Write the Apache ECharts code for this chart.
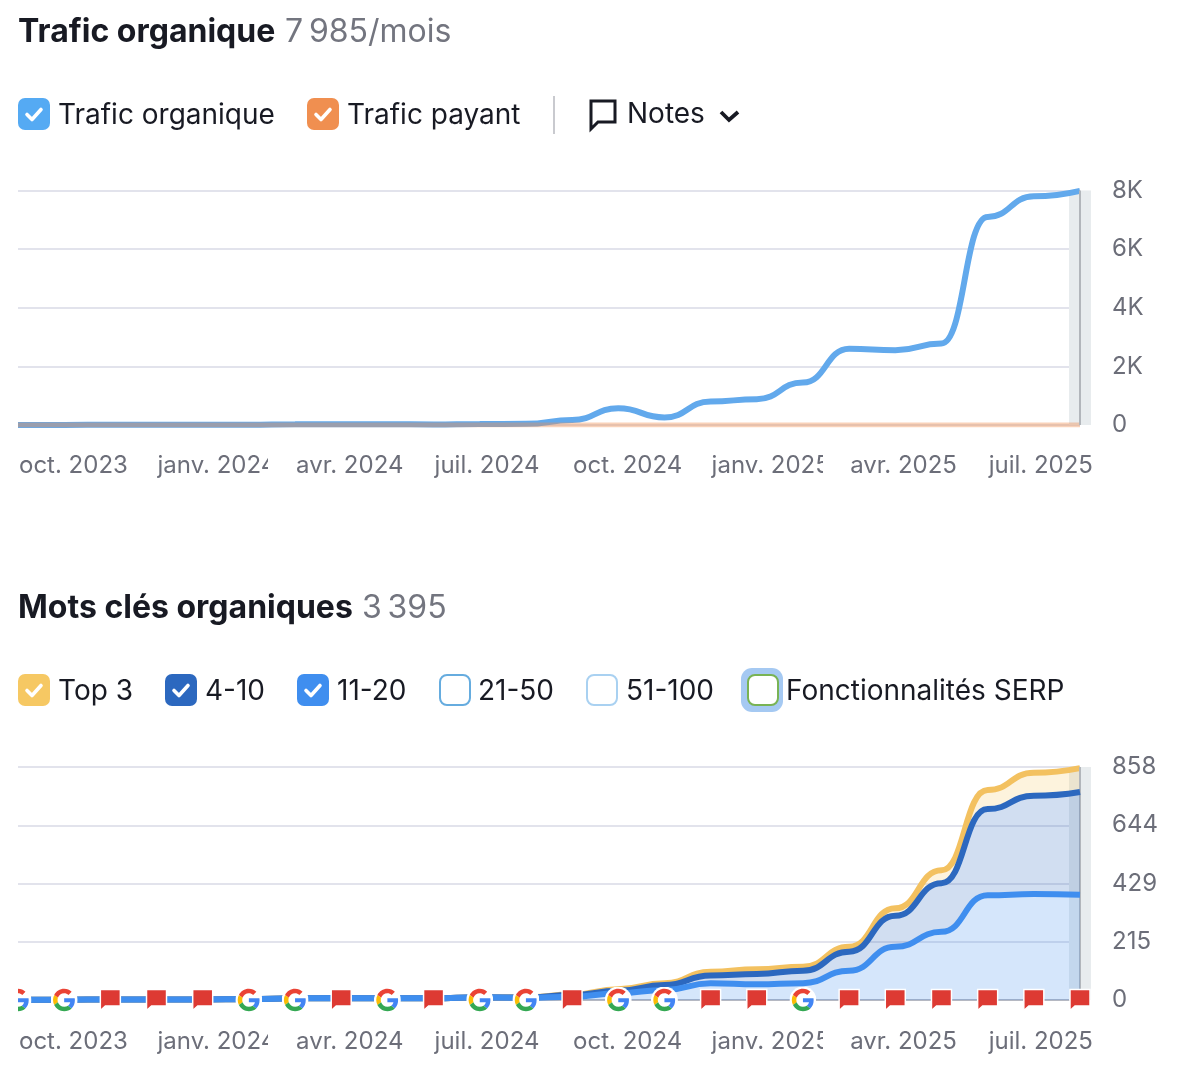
<!DOCTYPE html>
<html>
<head>
<meta charset="utf-8">
<style>html,body{margin:0;padding:0;background:#fff}#c{width:1180px;height:1092px}</style>
<script src="https://cdn.jsdelivr.net/npm/echarts@6/dist/echarts.min.js"></script>
</head>
<body>
<div id="c"></div>
<script>
const categories = ['oct. 2023','nov. 2023','déc. 2023','janv. 2024','févr. 2024','mars 2024','avr. 2024','mai 2024','juin 2024','juil. 2024','août 2024','sept. 2024','oct. 2024','nov. 2024','déc. 2024','janv. 2025','févr. 2025','mars 2025','avr. 2025','mai 2025','juin 2025','juil. 2025','août 2025','sept. 2025'];
const organicTraffic = [3,4,5,6,8,10,25,28,25,20,35,40,170,570,260,800,880,1450,2600,2550,2780,7100,7800,7985];
const paidTraffic = [0,0,0,0,0,0,0,0,0,0,0,0,0,0,0,0,0,0,0,0,0,0,0,0];
const kw1120 = [1,1,2,2,2,3,6,7,6,6,10,8,12,25,37,62,58,62,108,196,251,386,390,388];
const kw410 = [0,0,0,0,0,0,0,0,0,0,0,1,6,9,18,28,38,46,70,114,179,317,362,378];
const kwTop3 = [0,0,0,0,0,0,0,0,0,0,0,1,2,6,7,14,17,14,18,28,48,70,85,88];
const noteKinds = ['G','G','F','F','F','G','G','F','G','F','G','G','F','G','G','F','F','G','F','F','F','F','F','F'];
const trafficTicks = {max:8000, interval:2000};
const keywordTicks = {max:858, interval:214.5};

const FONT = 'Inter, "Noto Sans", sans-serif';
const gSvg = '<svg xmlns="http://www.w3.org/2000/svg" viewBox="-5 -5 58 58"><circle cx="24" cy="24" r="29" fill="#fff"/><path fill="#EA4335" d="M24 9.5c3.54 0 6.71 1.22 9.21 3.6l6.85-6.85C35.9 2.38 30.47 0 24 0 14.62 0 6.51 5.38 2.56 13.22l7.98 6.19C12.43 13.72 17.74 9.5 24 9.5z"/><path fill="#4285F4" d="M46.98 24.55c0-1.57-.15-3.09-.38-4.55H24v9.02h12.94c-.58 2.96-2.26 5.48-4.78 7.18l7.73 6c4.51-4.18 7.09-10.36 7.09-17.65z"/><path fill="#FBBC05" d="M10.53 28.59c-.48-1.45-.76-2.99-.76-4.59s.27-3.14.76-4.59l-7.98-6.19C.92 16.46 0 20.12 0 24c0 3.88.92 7.54 2.56 10.78l7.97-6.19z"/><path fill="#34A853" d="M24 48c6.48 0 11.93-2.13 15.89-5.81l-7.73-6c-2.15 1.45-4.92 2.3-8.16 2.3-6.26 0-11.57-4.22-13.47-9.91l-7.98 6.19C6.51 42.62 14.62 48 24 48z"/></svg>';
const gSymbol = 'image://data:image/svg+xml;charset=utf-8,' + encodeURIComponent(gSvg);
const flagSymbol = 'path://M0 0H20V16.5H5L0 21Z';

function xAxis(gridIndex, margin, base){
  return {type:'category', gridIndex, data:categories, boundaryGap:false,
    axisLine:base?{show:true,lineStyle:{color:'#b5b8c2',width:2}}:{show:false}, axisTick:{show:false}, splitLine:{show:false},
    axisLabel:{interval:2, align:'left', margin, padding:[0,0,0,1], color:'#6c6e79', fontFamily:FONT, fontSize:24, hideOverlap:false, showMinLabel:true}};
}
function yAxis(gridIndex, t, fmt){
  return {type:'value', gridIndex, position:'right', min:0, max:t.max, interval:t.interval,
    axisLine:{show:false}, axisTick:{show:false},
    splitLine:{lineStyle:{color:'#e2e3ec', width:2}},
    axisLabel:{margin:32, color:'#6c6e79', fontFamily:FONT, fontSize:24, formatter:fmt, padding:[0,0,3,0], align:'left'}};
}
function band(i, max){
  const d = categories.map((c,k)=> k===categories.length-1 ? max : null);
  return {name:'Période', type:'bar', xAxisIndex:i, yAxisIndex:i, data:d, barWidth:22, clip:false, silent:true, z:1,
    itemStyle:{color:'#e8ecee'},
    markLine:{silent:true, symbol:'none', label:{show:false}, animation:false, lineStyle:{color:'#b2b6bb', width:2, type:'solid'}, data:[{xAxis:categories.length-1}]}};
}
function line(name, data, color, w, extra, i){
  return Object.assign({name, type:'line', xAxisIndex:i, yAxisIndex:i, data, smooth:0.5, smoothMonotone:'x', showSymbol:false, symbol:'none',
    lineStyle:{color, width:w}, itemStyle:{color}, animation:false}, extra);
}
function notes(kind, symbol, size, extra){
  const d = [];
  noteKinds.forEach((k,i)=>{ if(k===kind) d.push([i,0]); });
  return Object.assign({name:kind==='G'?'Mises à jour Google':'Notes', type:'scatter', xAxisIndex:1, yAxisIndex:1, data:d, symbol, symbolSize:size, z:10, clip:false, animation:false, silent:true}, extra);
}

function txt(text,x,y,size,weight,fill){
  return {type:'text', z:50, style:{text,x,y,font:weight+' '+size+'px '+FONT,fill,align:'left',verticalAlign:'middle'}};
}
function checkbox(x,y,fill,checked,stroke){
  const g = [{type:'rect', z:50, shape:{x:x+(stroke?1:0),y:y+(stroke?1:0),width:stroke?30:32,height:stroke?30:32,r:7},
    style:{fill:stroke?'#fff':fill, stroke:stroke||null, lineWidth:stroke?2:0}}];
  if(checked) g.push({type:'polyline', z:51, shape:{points:[[x+9,y+16.5],[x+14,y+21.5],[x+23,y+11.5]]},
    style:{fill:null,stroke:'#fff',lineWidth:3.6,lineCap:'round',lineJoin:'round'}});
  return g;
}
const legend1 = [
  {name:'Trafic organique',box:18,label:58,fill:'#55aaf3',checked:true},
  {name:'Trafic payant',box:307,label:347,fill:'#f08f50',checked:true}];
const legend2 = [
  {name:'Top 3',box:18,label:58,fill:'#f6c863',checked:true},
  {name:'4-10',box:165,label:205,fill:'#2c68bf',checked:true},
  {name:'11-20',box:297,label:337,fill:'#3f8eef',checked:true},
  {name:'21-50',box:439,label:478,stroke:'#66acdf'},
  {name:'51-100',box:586,label:626,stroke:'#a9d1f1'},
  {name:'Fonctionnalités SERP',box:747,label:786,stroke:'#79b354'}];
const graphics = [
  txt('Trafic organique',18,32,32,700,'#181a23'),
  txt('7\u202f985/mois',285,32,32,400,'#73757f'),
  txt('Mots clés organiques',18,608,32,700,'#181a23'),
  txt('3\u202f395',362,608,32,400,'#73757f'),
  {type:'rect', z:49, shape:{x:741,y:668,width:42,height:44,r:11}, style:{fill:'#a5c9f2'}},
  {type:'rect', z:49, shape:{x:553,y:96,width:2,height:38}, style:{fill:'#c9cacf'}},
  {type:'polygon', z:50, shape:{points:[[591,101],[615,101],[615,122],[598,122],[591,129]]}, style:{fill:null,stroke:'#181a23',lineWidth:3}},
  txt('Notes',627,115,28,400,'#181a23'),
  {type:'polyline', z:50, shape:{points:[[721,112],[729,120],[738,112]]}, style:{fill:null,stroke:'#181a23',lineWidth:3.8}},
  {type:'rect', z:40, shape:{x:268,y:448,width:20,height:34}, style:{fill:'#fff'}},
  {type:'rect', z:40, shape:{x:823,y:448,width:20,height:34}, style:{fill:'#fff'}},
  {type:'rect', z:40, shape:{x:268,y:1024,width:20,height:34}, style:{fill:'#fff'}},
  {type:'rect', z:40, shape:{x:823,y:1024,width:20,height:34}, style:{fill:'#fff'}},
  {type:'rect', z:40, shape:{x:0,y:980,width:18,height:40}, style:{fill:'#fff'}}
];
legend1.forEach(l=>{ checkbox(l.box,98,l.fill,l.checked,l.stroke).forEach(g=>graphics.push(g)); graphics.push(txt(l.name,l.label,116,28,400,'#181a23')); });
legend2.forEach(l=>{ checkbox(l.box,674,l.fill,l.checked,l.stroke).forEach(g=>graphics.push(g)); graphics.push(txt(l.name,l.label,692,28,400,'#181a23')); });

const chart = echarts.init(document.getElementById('c'), null, {renderer:'canvas'});
chart.setOption({
  backgroundColor:'#fff', animation:false,
  textStyle:{fontFamily:FONT},
  grid:[{left:18, right:100, top:190.5, height:234.5},{left:18, right:100, top:767, height:233}],
  xAxis:[xAxis(0,29,false), xAxis(1,30,true)],
  yAxis:[yAxis(0,trafficTicks,v=>v===0?'0':(v/1000)+'K'), yAxis(1,keywordTicks,v=>String(Math.round(v)))],
  series:[
    band(0,trafficTicks.max),
    line('Trafic organique',organicTraffic,'#62a9ec',6,{z:3},0),
    line('Trafic payant',paidTraffic,'rgba(240,143,80,0.4)',5,{z:4},0),
    band(1,keywordTicks.max),
    line('11-20',kw1120,'#3f8eef',6,{stack:'kw',z:6,areaStyle:{color:'rgba(63,142,239,0.22)',opacity:1}},1),
    line('4-10',kw410,'#2c68bf',6,{stack:'kw',z:5,areaStyle:{color:'rgba(46,105,192,0.22)',opacity:1}},1),
    line('Top 3',kwTop3,'#f3c160',6,{stack:'kw',z:4,areaStyle:{color:'rgba(246,200,99,0.22)',opacity:1}},1),
    notes('G',gSymbol,27,{itemStyle:{opacity:1}}),
    notes('F',flagSymbol,[20,21],{itemStyle:{opacity:1,color:'#dd3a33',borderColor:'#fff',borderWidth:1.5}})
  ],
  graphic:graphics
});
</script>
</body>
</html>
